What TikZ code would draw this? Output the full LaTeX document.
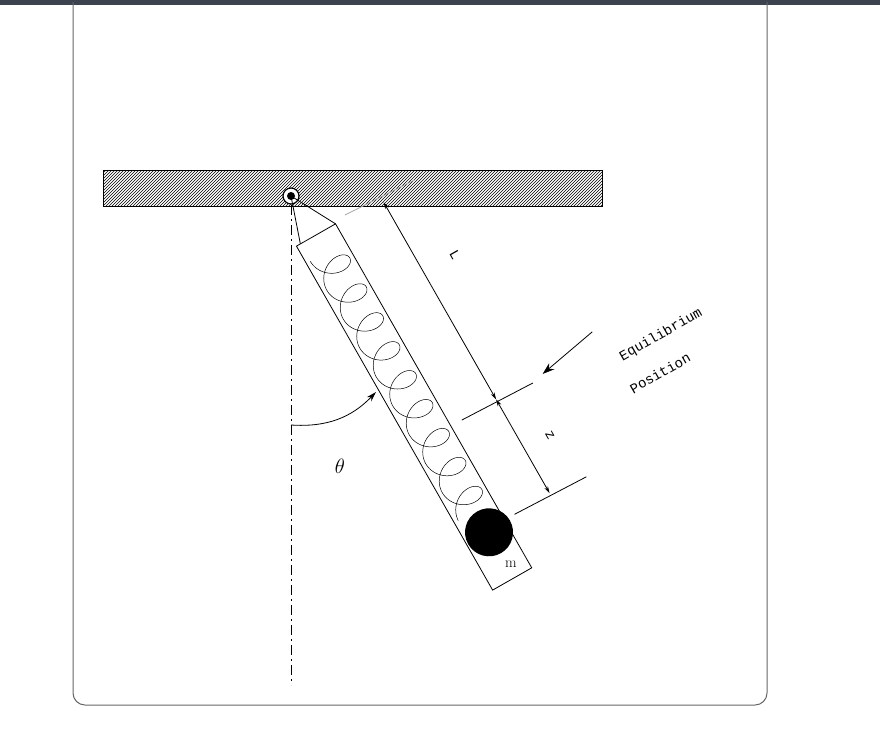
\documentclass[tikz,border=0pt]{standalone}
\usepackage{fontspec}
\setmonofont{Liberation Mono}
\usetikzlibrary{patterns,arrows.meta}
\begin{document}
\begin{tikzpicture}[x=1pt,y=-1pt,
  thin line/.style={line width=0.8pt,black},
  dim/.style={line width=0.8pt,{Stealth[length=7pt,width=4pt]}-{Stealth[length=7pt,width=4pt]}},
  lbl/.style={font=\ttfamily\fontsize{14}{16}\selectfont}]
\useasboundingbox (0,0) rectangle (880,750);
\fill[fill={rgb,255:red,60;green,66;blue,78}] (0,0) rectangle (880,5);
\draw[line width=1pt,gray!80!black,rounded corners=12pt] (73,2) -- (73,705) -- (767,705) -- (767,2);
% ceiling
\draw[line width=1pt,pattern=north east lines] (103,170) rectangle (602,206);
\node[inner sep=0] (ceil) at (352,188) {};
% vertical dash-dot
\draw[line width=0.8pt,dash pattern=on 10pt off 4pt on 2pt off 4pt] (291,205) -- (291,685);
% pivot
\coordinate (P) at (291,196);
\draw[line width=1.2pt,fill=white] (P) circle (8);
\fill (P) circle (4);
\begin{scope}[shift={(316,235)},rotate=-60.3]
  \coordinate (TL) at (0,-22.5); \coordinate (TR) at (0,22.5);
  \coordinate (BL) at (396,-22.5); \coordinate (BR) at (396,22.5);
  \draw[thin line] (TL) -- (BL) -- (BR) -- (TR) -- cycle;
  \draw[thin line] (P) -- (0,18) (P) -- (TL);
  % spring
  \draw[line width=0.5pt,domain=0:56.5,samples=500,smooth]
     plot ({20+\x*5.3+15*sin(\x r)},{18*cos(\x r)});
  % mass
  \fill (344,-3) circle (24);
  \node (m) at (383,-6) {\rmfamily\fontsize{15}{16}\selectfont m};
  % dimension lines
  \draw[line width=0.8pt,gray!70] (-3,-35) -- (1,-113);
  \draw[thin line] (233,-35) -- (236,-115);
  \draw[thin line] (341,-34) -- (344,-115);
  \coordinate (a0) at (5,-75); \coordinate (a1) at (232,-75); \coordinate (a2) at (340,-75);
  \draw[dim] (a0) -- (a1);
  \draw[dim] (a1) -- (a2);
  \node[lbl,rotate=-60.3] (Ll) at (86,-111) {L};
  \node[lbl,rotate=-60.3] (zl) at (290,-104) {z};
  \coordinate (e0) at (221,-192); \coordinate (e1) at (233,-128);
  \draw[line width=0.8pt,-{Stealth[length=12pt,width=8pt]}] (e0) -- (e1);
\end{scope}
\node[lbl,rotate=29.7] (eq) at (661,335) {Equilibrium};
\node[lbl,rotate=29.7] (pos) at (660,373) {Position};
% angle
\coordinate (th0) at (291,425);
\coordinate (th1) at (376,392);
\draw[line width=0.8pt,-{Stealth[length=10pt,width=6pt]}] (th0) to[bend right=25] (th1);
\node (theta) at (340,466) {\fontsize{20}{22}\selectfont$\theta$};
\end{tikzpicture}
\end{document}
